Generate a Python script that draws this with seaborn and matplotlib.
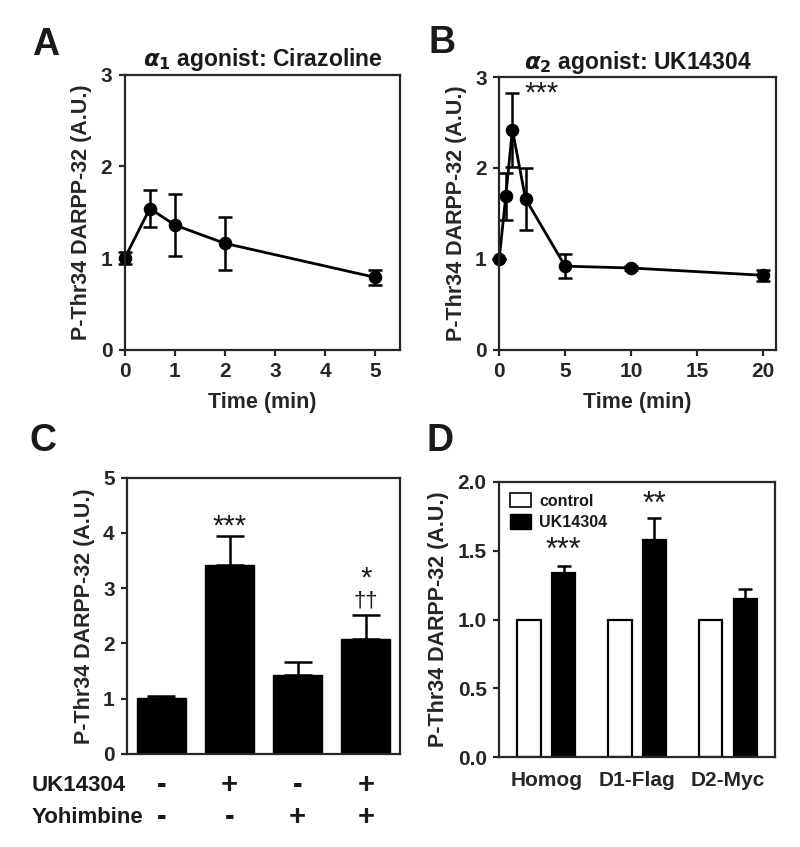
import matplotlib as mpl
mpl.use('Agg')

import matplotlib.pyplot as plt
import matplotlib.patches as mpatches
import seaborn as sns
import pandas as pd
import numpy as np

sns.set_style("ticks")
plt.rcParams['font.family'] = ['Liberation Sans', 'DejaVu Sans']
plt.rcParams['font.weight'] = 'bold'
plt.rcParams['axes.labelweight'] = 'bold'
plt.rcParams['axes.linewidth'] = 1.6
plt.rcParams['xtick.major.width'] = 1.6
plt.rcParams['ytick.major.width'] = 1.6
plt.rcParams['xtick.major.size'] = 4
plt.rcParams['ytick.major.size'] = 4
plt.rcParams['text.color'] = '#1a1a1a'
plt.rcParams['mathtext.fontset'] = 'dejavusans'

# panel A: alpha1 agonist time course
a_time = [0, 0.5, 1, 2, 5]
a_mean = [1.00, 1.54, 1.36, 1.16, 0.79]
a_sem = [0.07, 0.20, 0.34, 0.29, 0.08]

# panel B: alpha2 agonist time course
b_time = [0, 0.5, 1, 2, 5, 10, 20]
b_mean = [1.00, 1.69, 2.42, 1.66, 0.92, 0.90, 0.82]
b_sem = [0.00, 0.26, 0.41, 0.34, 0.13, 0.02, 0.06]

# panel C: UK14304 / yohimbine
c_cond = ['c1', 'c2', 'c3', 'c4']
c_mean = [1.02, 3.42, 1.43, 2.08]
c_sem = [0.03, 0.53, 0.23, 0.44]
c_uk = ['-', '+', '-', '+']
c_yoh = ['-', '-', '+', '+']

# panel D: preparations
d_groups = ['Homog', 'D1-Flag', 'D2-Myc']
d_control = [1.0, 1.0, 1.0]
d_uk = [1.34, 1.58, 1.15]
d_uk_sem = [0.05, 0.16, 0.07]

ylab = 'P-Thr34 DARPP-32 (A.U.)'
tick_fs = 15
lab_fs = 15.5
star_fs = 21

fig = plt.figure(figsize=(8, 8.47), dpi=100)
axA = fig.add_axes([0.156, 0.587, 0.344, 0.325])
axB = fig.add_axes([0.624, 0.587, 0.346, 0.322])
axC = fig.add_axes([0.159, 0.110, 0.341, 0.326])
axD = fig.add_axes([0.624, 0.106, 0.345, 0.325])


def time_course(ax, t, m, e, xmax, xticks, title):
    sns.lineplot(x=t, y=m, ax=ax, color='black', linewidth=2.0, marker='o',
                 markersize=9, markeredgecolor='black', clip_on=False)
    ax.errorbar(t, m, yerr=e, fmt='none', ecolor='black', elinewidth=1.8,
                capsize=5, capthick=1.8, clip_on=False)
    ax.set_xlim(0, xmax)
    ax.set_ylim(0, 3)
    ax.set_xticks(xticks)
    ax.set_yticks([0, 1, 2, 3])
    ax.set_xlabel('Time (min)', fontsize=lab_fs, labelpad=8)
    ax.set_ylabel(ylab, fontsize=lab_fs, labelpad=6)
    ax.set_title(title, fontsize=16.5, fontweight='bold', pad=6)
    ax.tick_params(labelsize=tick_fs, top=False, right=False, pad=5)


time_course(axA, a_time, a_mean, a_sem, 5.5, [0, 1, 2, 3, 4, 5],
            r'$\alpha_\mathbf{1}$ agonist: Cirazoline')
time_course(axB, b_time, b_mean, b_sem, 21, [0, 5, 10, 15, 20],
            r'$\alpha_\mathbf{2}$ agonist: UK14304')
axB.text(3.2, 2.82, '***', fontsize=star_fs, ha='center', va='center',
         fontweight='normal')

# panel C
sns.barplot(x=c_cond, y=c_mean, ax=axC, color='black', width=0.72,
            errorbar=None, saturation=1, edgecolor='black')
axC.errorbar(range(len(c_cond)), c_mean,
             yerr=[np.zeros(len(c_sem)), c_sem], fmt='none', ecolor='black',
             elinewidth=1.8, capsize=10, capthick=1.8)
axC.set_ylim(0, 5)
axC.set_xlim(-0.5, 3.5)
axC.set_yticks(range(6))
axC.set_xticks([])
axC.set_ylabel(ylab, fontsize=lab_fs, labelpad=6)
axC.tick_params(labelsize=tick_fs, pad=5)
axC.text(1, 4.12, '***', fontsize=star_fs, ha='center', va='center',
         fontweight='normal')
axC.text(3, 3.17, '*', fontsize=star_fs, ha='center', va='center',
         fontweight='normal')
axC.text(3, 2.76, '\u2020\u2020', fontsize=16, ha='center', va='center',
         fontweight='normal')
for i, (u, y) in enumerate(zip(c_uk, c_yoh)):
    axC.text(i, -0.112, u, transform=axC.get_xaxis_transform(), fontsize=21,
             ha='center', va='center')
    axC.text(i, -0.228, y, transform=axC.get_xaxis_transform(), fontsize=21,
             ha='center', va='center')
fig.text(0.04, 1 - 785 / 847, 'UK14304', fontsize=16, va='center')
fig.text(0.04, 1 - 817 / 847, 'Yohimbine', fontsize=16, va='center')

# panel D
d_df = pd.DataFrame({
    'group': d_groups * 2,
    'cond': ['control'] * 3 + ['UK14304'] * 3,
    'value': d_control + d_uk,
})
sns.barplot(data=d_df, x='group', y='value', hue='cond', ax=axD,
            palette={'control': 'white', 'UK14304': 'black'},
            edgecolor='black', linewidth=1.6, width=0.76, gap=0.32,
            errorbar=None, saturation=1)
uk_bars = axD.containers[1]
uk_x = [p.get_x() + p.get_width() / 2 for p in uk_bars]
axD.errorbar(uk_x, d_uk, yerr=[np.zeros(3), d_uk_sem], fmt='none',
             ecolor='black', elinewidth=1.8, capsize=5, capthick=1.8)
axD.set_ylim(0, 2)
axD.set_xlim(-0.52, 2.52)
axD.set_yticks([0, 0.5, 1.0, 1.5, 2.0])
axD.set_yticklabels(['0.0', '0.5', '1.0', '1.5', '2.0'])
axD.set_xlabel('')
axD.set_ylabel(ylab, fontsize=lab_fs, labelpad=6)
axD.tick_params(labelsize=tick_fs, pad=5)
axD.tick_params(axis='x', length=0, pad=10)
axD.text(uk_x[0], 1.50, '***', fontsize=star_fs + 1, ha='center',
         va='center', fontweight='normal')
axD.text(uk_x[1], 1.83, '**', fontsize=star_fs + 1, ha='center',
         va='center', fontweight='normal')
handles = [mpatches.Patch(facecolor='white', edgecolor='black', linewidth=1.2),
           mpatches.Patch(facecolor='black', edgecolor='black')]
axD.legend(handles, ['control', 'UK14304'], loc='upper left', frameon=False,
           fontsize=11.5, handlelength=1.3, handleheight=1.0,
           borderaxespad=0.3, labelspacing=0.35, handletextpad=0.5)

# panel letters
for x, y, s in [(0.04, 0.947, 'A'), (0.536, 0.949, 'B'),
                (0.037, 0.479, 'C'), (0.533, 0.479, 'D')]:
    fig.text(x, y, s, fontsize=27, fontweight='bold', va='center')

fig.savefig('out.png', dpi=100)
